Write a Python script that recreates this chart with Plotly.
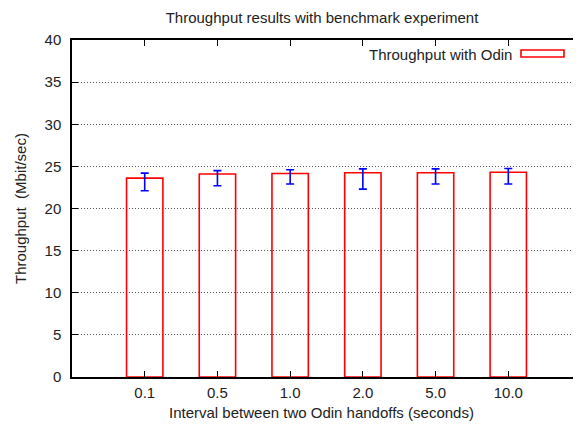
import plotly.graph_objects as go

categories = ["0.1", "0.5", "1.0", "2.0", "5.0", "10.0"]
throughput = [23.6, 24.1, 24.15, 24.25, 24.25, 24.3]
err_high = [24.2, 24.5, 24.6, 24.7, 24.7, 24.75]
err_low = [22.1, 22.7, 22.9, 22.3, 22.9, 22.9]

OFF = 8  # browser body margin
W, H = 581 - OFF, 424 - OFF
L, R, T, B = 72 - OFF, 0, 40 - OFF, 47
pw, ph = W - L - R, H - T - B

def px_x(x):
    return (x - OFF - L) / pw

def px_y(y):
    return (H - B - (y - OFF)) / ph

font = "Liberation Sans, Arial, Helvetica, sans-serif"
FS = 15
xs = list(range(len(categories)))

fig = go.Figure()
fig.add_trace(go.Bar(
    x=xs, y=throughput, width=0.5, name="Throughput with Odin",
    marker=dict(color="rgba(0,0,0,0)", line=dict(color="#ff0000", width=1.6)),
    error_y=dict(type="data", symmetric=False,
                 array=[h - v for h, v in zip(err_high, throughput)],
                 arrayminus=[v - l for v, l in zip(throughput, err_low)],
                 color="#0000ff", thickness=1.6, width=4),
    showlegend=False,
))

fig.update_layout(
    width=W, height=H,
    margin=dict(l=L, r=R, t=T, b=B),
    paper_bgcolor="white", plot_bgcolor="white",
    font=dict(family=font, size=FS, color="#222"),
    bargap=0.5,
    title=dict(text="Throughput results with benchmark experiment", x=(322 - OFF) / W, xanchor="center",
               y=1 - (18 - OFF) / H, yanchor="middle", font=dict(size=FS, color="#222")),
    xaxis=dict(range=[-1, 6], tickmode="array", tickvals=xs, ticktext=categories,
               ticks="inside", ticklen=6, tickcolor="black", tickwidth=1,
               showline=True, linecolor="black", linewidth=1.5, mirror="ticks",
               showgrid=False, zeroline=False, ticklabelstandoff=1,
               tickfont=dict(size=FS, color="#222")),
    yaxis=dict(range=[0, 40], dtick=5, ticks="inside", ticklen=6, tickcolor="black",
               showline=True, linecolor="black", linewidth=1.5,
               showgrid=True, gridcolor="#555", griddash="1px,2px", gridwidth=1,
               zeroline=False, ticklabelstandoff=6,
               tickfont=dict(size=FS, color="#222")),
    annotations=[
        dict(text="Interval between two Odin handoffs (seconds)", xref="paper", yref="paper",
             x=px_x(321), y=px_y(413), xanchor="center", yanchor="middle", showarrow=False,
             font=dict(size=FS, color="#222")),
        dict(text="Throughput\u00a0\u00a0(Mbit/sec)", xref="paper", yref="paper",
             x=px_x(20), y=px_y(209), xanchor="center", yanchor="middle", showarrow=False,
             textangle=-90, font=dict(size=FS, color="#222")),
        dict(text="Throughput with Odin", xref="paper", yref="paper",
             x=px_x(514), y=px_y(54), xanchor="right", yanchor="middle", showarrow=False,
             font=dict(size=FS, color="#222")),
    ],
    shapes=[
        dict(type="rect", xref="paper", yref="paper",
             x0=px_x(521), x1=px_x(564), y0=px_y(50), y1=px_y(57),
             line=dict(color="#ff0000", width=1.6), fillcolor="rgba(0,0,0,0)"),
    ],
)

fig.write_html("out.html")
